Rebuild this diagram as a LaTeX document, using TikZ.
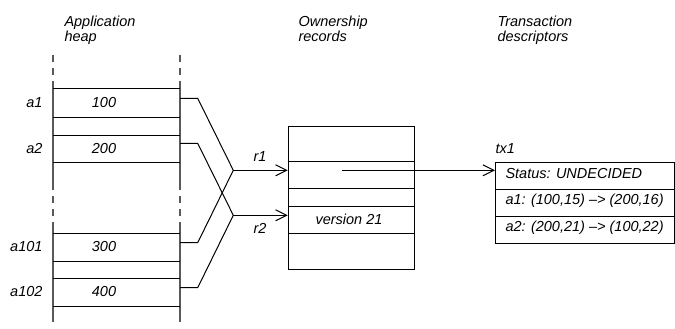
\documentclass[tikz,border=0pt]{standalone}
\usepackage{fontspec}
\setmainfont{Liberation Sans}
\usetikzlibrary{arrows.meta}
\begin{document}
\begin{tikzpicture}[x=1pt,y=-1pt,
  font=\fontsize{14.5}{15}\selectfont\itshape,
  line width=1pt,
  txt/.style={inner sep=0pt, anchor=base west},
  lbl/.style={inner sep=0pt, anchor=base east},
  val/.style={inner sep=0pt, anchor=base},
  heapline/.style={draw=black!65, line width=1.4pt},
  heapdash/.style={heapline, dash pattern=on 7pt off 6pt},
  arr/.style={-{Straight Barb[length=11pt,width=11pt,line width=1pt]}},
  boxnode/.style={draw, inner sep=0pt, anchor=north west}]
\useasboundingbox (0,0) rectangle (675,329);

% headings (base anchor = baseline of last line)
\node[txt, align=left] (hApp) at (64,42) {Application\\heap};
\node[txt, align=left] (hOwn) at (298,41.7) {Ownership\\records};
\node[txt, align=left] (hTx) at (497,41.5) {Transaction\\descriptors};

% heap vertical lines
\foreach \x in {53,180}{
  \draw[heapdash] (\x,55) -- (\x,75);
  \draw[heapline] (\x,81) -- (\x,190);
  \draw[heapdash] (\x,196) -- (\x,216);
  \draw[heapline] (\x,222) -- (\x,322);
}
% heap rows
\foreach \y in {89,117,135,162,233,261,278,306}{
  \draw (53,\y) -- (180,\y);
}
% heap labels and values
\node[lbl] (la1) at (43,107) {a1};
\node[lbl] (la2) at (43,153) {a2};
\node[lbl] (la101) at (43,251) {a101};
\node[lbl] (la102) at (43,296) {a102};
\node[val] (v1) at (104,107) {100};
\node[val] (v2) at (104,153) {200};
\node[val] (v3) at (104,251) {300};
\node[val] (v4) at (104,296) {400};

% connector coordinates
\coordinate (s1) at (180,98.3);
\coordinate (k1) at (197.7,98.3);
\coordinate (s2) at (180,143.3);
\coordinate (k2) at (197.7,143.3);
\coordinate (s3) at (180,242.7);
\coordinate (k3) at (197.7,242.7);
\coordinate (s4) at (180,287.7);
\coordinate (k4) at (197.7,287.7);
\coordinate (j1) at (233.3,170.3);
\coordinate (j2) at (233.3,215.3);

% ownership records box
\node[boxnode, minimum width=126pt, minimum height=143.6pt] (own) at (287.7,125.7) {};
\foreach \y in {161,188.3,206.3,233.3}{
  \draw (287.7,\y) -- (413.7,\y);
}
\node[val] (ver) at (349,224.5) {version 21};

% transaction descriptor box
\node[boxnode, minimum width=179pt, minimum height=81.6pt] (tx) at (495,161.7) {};
\draw (495,189) -- (674,189);
\draw (495,216.3) -- (674,216.3);
\node[txt] (txl) at (495,153.3) {tx1};
\node[txt] (st) at (505,178) {Status: UNDECIDED};
\node[txt] (e1) at (505,204) {a1: (100,15) \textendash> (200,16)};
\node[txt] (e2) at (505,231) {a2: (200,21) \textendash> (100,22)};

% connectors
\draw (s1) -- (k1) -- (j1);
\draw (s3) -- (k3) -- (j1);
\draw (s2) -- (k2) -- (j2);
\draw (s4) -- (k4) -- (j2);
\draw[arr] (j1) -- (own.west |- j1);
\draw[arr] (j2) -- (own.west |- j2);
\node[txt] (r1) at (253,161.7) {r1};
\node[txt] (r2) at (253,233) {r2};

\coordinate (o1) at (341.7,170.3);
\draw[arr] (o1) -- (tx.west |- o1);
\end{tikzpicture}
\end{document}
